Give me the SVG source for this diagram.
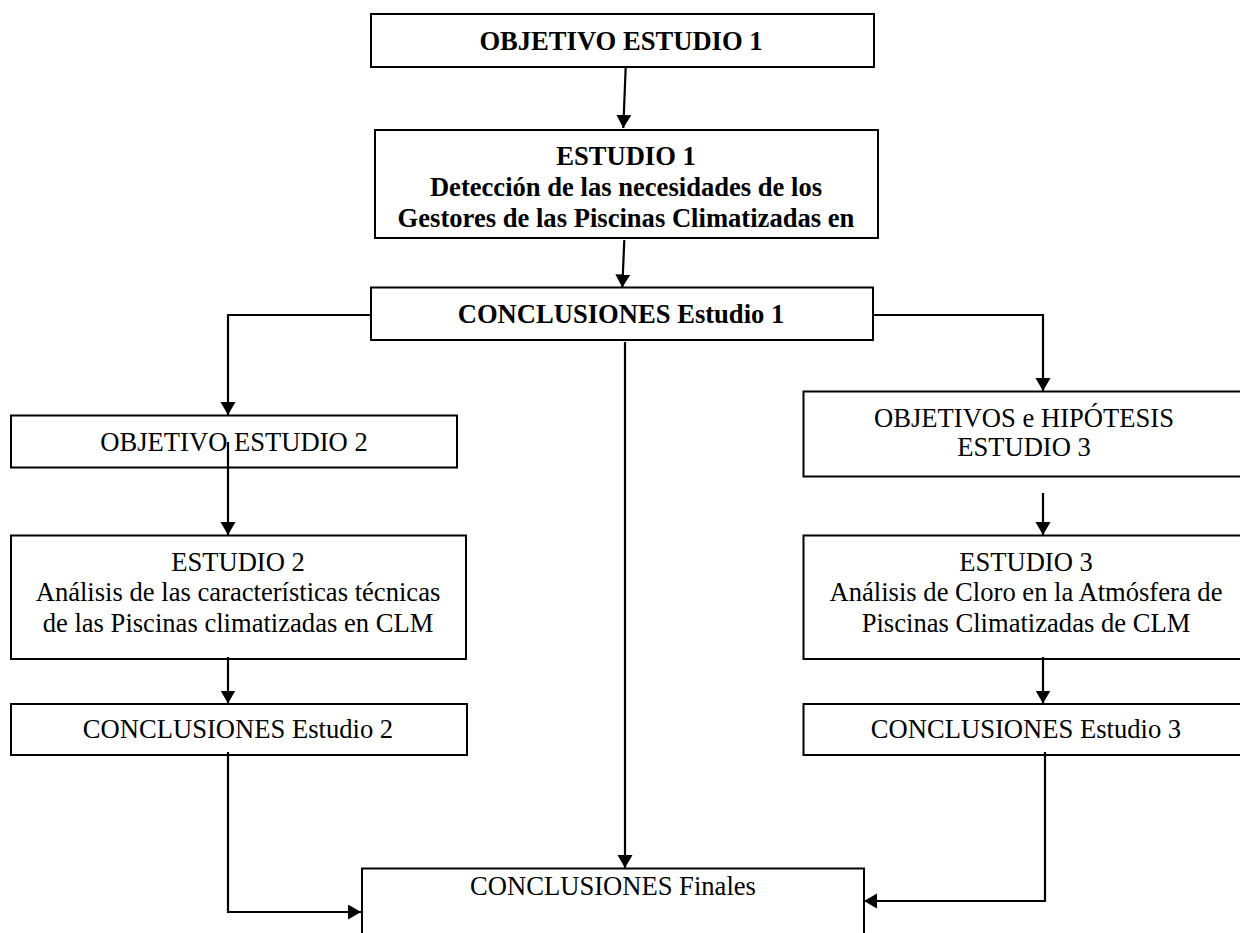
<svg xmlns="http://www.w3.org/2000/svg" width="1240" height="933" viewBox="0 0 1240 933">
<style>
.box{fill:#fff;stroke:#000;stroke-width:2}
.t{font-family:"Liberation Serif","Times New Roman",serif;font-size:26.6px;fill:#000;text-anchor:middle}
.b{font-weight:bold}
.c{fill:none;stroke:#000;stroke-width:2.2}
</style>
<defs>
<marker id="ah" markerUnits="userSpaceOnUse" markerWidth="14" markerHeight="16" refX="13" refY="7.5" orient="auto">
<path d="M0,0 L13,7.5 L0,15 z" fill="#000"/>
</marker>
</defs>
<rect width="1240" height="933" fill="#fff"/>
<g id="n1"><rect class="box" x="371" y="14" width="503" height="53"/>
<text class="t b" x="621" y="50">OBJETIVO ESTUDIO 1</text></g>
<g id="n2"><rect class="box" x="375" y="130" width="503" height="108"/>
<text class="t b" x="626" y="165">ESTUDIO 1</text>
<text class="t b" x="626" y="195.5">Detección de las necesidades de los</text>
<text class="t b" x="626" y="226.5">Gestores de las Piscinas Climatizadas en</text></g>
<g id="n3"><rect class="box" x="371" y="287.5" width="502" height="52.5"/>
<text class="t b" x="621" y="323">CONCLUSIONES Estudio 1</text></g>
<g id="n4"><rect class="box" x="11" y="415.5" width="446" height="52"/>
<text class="t" x="234" y="451">OBJETIVO ESTUDIO 2</text></g>
<g id="n5"><rect class="box" x="11" y="535.5" width="455" height="123.5"/>
<text class="t" x="238" y="571">ESTUDIO 2</text>
<text class="t" x="238" y="600.5">Análisis de las características técnicas</text>
<text class="t" x="238" y="632">de las Piscinas climatizadas en CLM</text></g>
<g id="n6"><rect class="box" x="11" y="704" width="456" height="51"/>
<text class="t" x="238" y="738">CONCLUSIONES Estudio 2</text></g>
<g id="n7"><rect class="box" x="803.5" y="391.5" width="460" height="85"/>
<text class="t" x="1024" y="427">OBJETIVOS e HIPÓTESIS</text>
<text class="t" x="1024" y="456">ESTUDIO 3</text></g>
<g id="n8"><rect class="box" x="803.5" y="535.5" width="460" height="123.5"/>
<text class="t" x="1026" y="571">ESTUDIO 3</text>
<text class="t" x="1026" y="600.5">Análisis de Cloro en la Atmósfera de</text>
<text class="t" x="1026" y="632">Piscinas Climatizadas de CLM</text></g>
<g id="n9"><rect class="box" x="803.5" y="704" width="460" height="51"/>
<text class="t" x="1026" y="738">CONCLUSIONES Estudio 3</text></g>
<g id="n10"><rect class="box" x="362" y="868.5" width="502" height="80" stroke-width="1.6"/>
<text class="t" x="613" y="895">CONCLUSIONES Finales</text></g>
<g id="connectors">
<path class="c" d="M625.7,67 L623.3,128" marker-end="url(#ah)"/>
<path class="c" d="M624.3,240 L622.3,287.5" marker-end="url(#ah)"/>
<path class="c" d="M371,315 H228 V415" marker-end="url(#ah)"/>
<path class="c" d="M874,315 H1043 V391" marker-end="url(#ah)"/>
<path class="c" d="M625,342 V868" marker-end="url(#ah)"/>
<path class="c" d="M228,442 V535" marker-end="url(#ah)"/>
<path class="c" d="M228,657 V703.5" marker-end="url(#ah)"/>
<path class="c" d="M1043,493 V535" marker-end="url(#ah)"/>
<path class="c" d="M1043,657 V703.5" marker-end="url(#ah)"/>
<path class="c" d="M228,752 V912 H361" marker-end="url(#ah)"/>
<path class="c" d="M1045,752 V901 H864" marker-end="url(#ah)"/>
</g>
</svg>
